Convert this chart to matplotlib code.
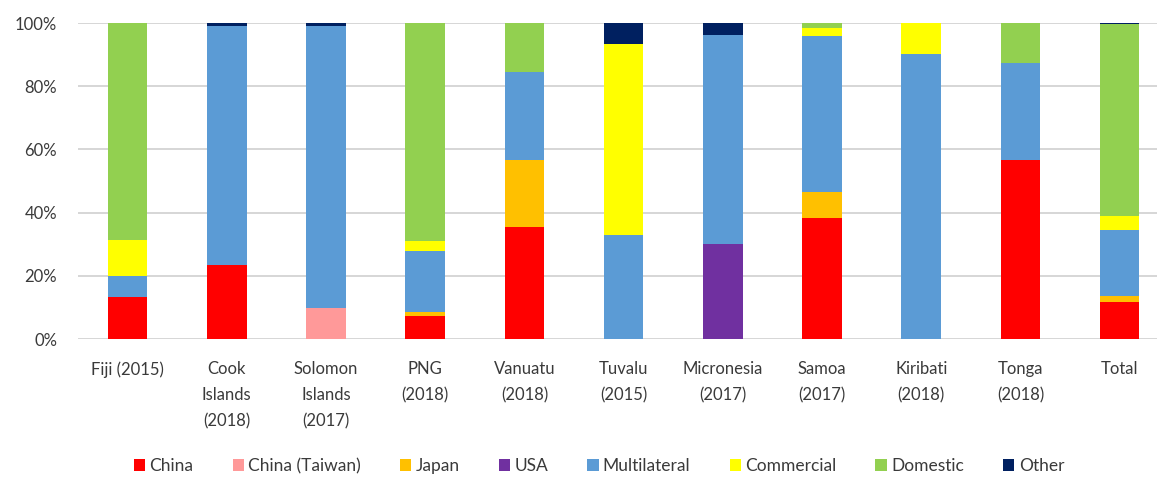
import matplotlib
matplotlib.use('Agg')
import matplotlib.pyplot as plt
import numpy as np

plt.rcParams['font.family'] = ['Lato', 'DejaVu Sans']

# Data (% share of external/total debt by source)
countries = ['Fiji (2015)', 'Cook\nIslands\n(2018)', 'Solomon\nIslands\n(2017)',
             'PNG\n(2018)', 'Vanuatu\n(2018)', 'Tuvalu\n(2015)',
             'Micronesia\n(2017)', 'Samoa\n(2017)', 'Kiribati\n(2018)',
             'Tonga\n(2018)', 'Total']
china = [13.2, 23.4, 0, 7.3, 35.4, 0, 0, 38.4, 0, 56.6, 11.6]
taiwan = [0, 0, 9.9, 0, 0, 0, 0, 0, 0, 0, 0]
japan = [0, 0, 0, 1.2, 21.1, 0, 0, 8.1, 0, 0, 2.0]
usa = [0, 0, 0, 0, 0, 0, 30.0, 0, 0, 0, 0]
multilateral = [6.8, 75.8, 89.1, 19.2, 27.9, 32.9, 66.1, 49.3, 90.3, 30.9, 20.9]
commercial = [11.4, 0, 0, 3.4, 0, 60.5, 0, 2.6, 9.7, 0, 4.5]
domestic = [68.6, 0, 0, 68.9, 15.6, 0, 0, 1.6, 0, 12.5, 60.7]
other = [0, 0.8, 1.0, 0, 0, 6.6, 3.9, 0, 0, 0, 0.3]

series = [('China', china, '#FF0000'),
          ('China (Taiwan)', taiwan, '#FF9999'),
          ('Japan', japan, '#FFC000'),
          ('USA', usa, '#7030A0'),
          ('Multilateral', multilateral, '#5B9BD5'),
          ('Commercial', commercial, '#FFFF00'),
          ('Domestic', domestic, '#92D050'),
          ('Other', other, '#002060')]

W, H = 1157, 478
fig = plt.figure(figsize=(W / 100, H / 100), dpi=100)
ax = fig.add_axes([78 / W, (H - 339) / H, (W - 78) / W, 316 / H])

x = np.arange(len(countries))
bottom = np.zeros(len(countries))
for name, vals, col in series:
    vals = np.array(vals, dtype=float)
    ax.bar(x, vals, 0.40, bottom=bottom, color=col, label=name, zorder=3)
    bottom += vals

ax.set_ylim(0, 100)
ax.set_xlim(-0.5, -0.5 + (W - 78) / 99.2)
ax.set_yticks([0, 20, 40, 60, 80, 100])
ax.set_yticklabels(['0%', '20%', '40%', '60%', '80%', '100%'])
ax.set_xticks(x)
ax.set_xticklabels(countries, linespacing=1.78, va='top')
ax.tick_params(axis='both', length=0, labelsize=12, colors='#3A3A3A')
ax.tick_params(axis='x', pad=16)
ax.tick_params(axis='y', pad=15)
ax.grid(axis='y', color='#D0D0D0', lw=1.2, zorder=0)
for s in ax.spines.values():
    s.set_visible(False)

fig.legend(loc='center', bbox_to_anchor=(599 / W, (H - 466) / H), ncol=8,
           frameon=False, fontsize=12.5, handlelength=0.65, handleheight=0.65,
           handletextpad=0.25, columnspacing=2.25, labelcolor='#3A3A3A')

fig.savefig('out.png', dpi=100)
